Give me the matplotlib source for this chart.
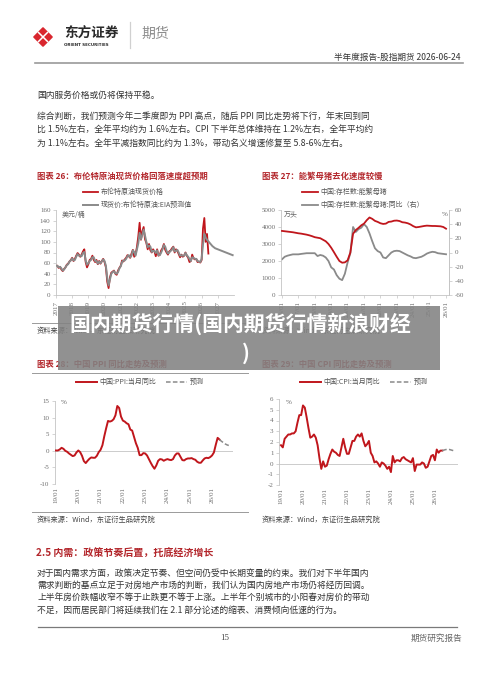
import numpy as np
import matplotlib
matplotlib.use("Agg")
import matplotlib.pyplot as plt
from matplotlib.patches import Rectangle, Polygon
from matplotlib.lines import Line2D
from matplotlib.font_manager import FontProperties

plt.rcParams['font.family'] = ['Noto Sans CJK SC', 'DejaVu Sans']
plt.rcParams['axes.unicode_minus'] = False

# ---------------- data ----------------
# Brent spot (monthly, from 2017-01) and EIA path incl. forecast (monthly, from 2017-01)
brent_spot = [56, 55, 51, 53, 48, 45, 49, 52, 57, 59, 63, 66,
              70, 64, 68, 74, 79, 76, 72, 76, 82, 86, 62, 52,
              58, 66, 68, 74, 66, 62, 66, 58, 64, 59, 64, 68,
              62, 52, 25, 13, 33, 42, 44, 46, 40, 38, 46, 51,
              55, 65, 63, 67, 70, 75, 73, 70, 78, 85, 72, 77,
              90, 110, 136, 104, 120, 128, 105, 98, 86, 96, 84, 80,
              86, 82, 73, 86, 74, 76, 84, 88, 96, 85, 80, 76,
              82, 84, 88, 91, 80, 86, 83, 77, 71, 76, 72, 74,
              80, 74, 70, 62, 64, 76, 69, 67, 68, 62, 63, 61,
              66, 125, 145, 100, 115, 78]
brent_eia = [55, 55, 52, 53, 50, 46, 48, 52, 56, 58, 63, 65,
             69, 65, 66, 72, 77, 74, 74, 73, 79, 81, 65, 57,
             60, 64, 66, 71, 71, 64, 64, 59, 63, 60, 63, 67,
             64, 55, 32, 18, 29, 40, 43, 45, 41, 40, 43, 50,
             54, 62, 65, 65, 68, 73, 75, 71, 74, 84, 81, 74,
             86, 97, 117, 105, 113, 123, 112, 100, 90, 93, 91, 81,
             83, 83, 79, 84, 75, 75, 80, 86, 94, 91, 83, 78,
             80, 83, 85, 90, 82, 83, 85, 80, 74, 75, 74, 74,
             79, 75, 72, 68, 64, 71, 70, 68, 68, 64, 63, 62,
             68, 95, 115, 108, 104, 101, 98, 95, 92, 90, 88, 87,
             86, 85, 84, 83, 82, 81, 80, 79, 78, 77, 76, 75]
brent_years = [2017, 2018, 2019, 2020, 2021, 2022, 2023, 2024, 2025, 2026, 2027]
brent_labels = [str(y) for y in brent_years]

# Breeding sows (bimonthly from 2016-01): stock (10k head) and YoY (%)
sow_stock = [3770, 3750, 3730, 3710, 3690, 3660,
             3630, 3610, 3580, 3550, 3510, 3460,
             3400, 3370, 3340, 3250, 3160, 3000,
             2780, 2520, 2250, 2000, 1900, 1920,
             2040, 2500, 3600, 3820, 3950, 4100,
             4200, 4400, 4560, 4480, 4360, 4300,
             4220, 4180, 4200, 4300, 4320, 4370,
             4380, 4350, 4280, 4260, 4220, 4150,
             4050, 3980, 4000, 4030, 4060, 4080,
             4070, 4060, 4060, 4050, 4040, 4000,
             3900]
sow_yoy = [-9.6, -6.0, -4.5, -3.5, -2.6, -2.6,
           -2.6, -2.0, -1.5, -1.0, -1.0, -1.0,
           -1.0, -5.0, -3.5, -4.5, -7.0, -12.0,
           -21.0, -24.0, -32.0, -37.0, -39.0, -30.0,
           -14.0, -1.0, 36.0, 29.0, 33.0, 35.0,
           40.0, 36.0, 27.0, 16.0, 6.0, 2.0,
           0.0, -7.0, -8.0, -4.0, 0.0, 2.0,
           2.5, 2.0, 0.0, -2.0, -4.0, -5.5,
           -7.5, -8.0, -7.0, -6.0, -4.0, -1.5,
           0.0, 1.0, 0.5, -1.0, -1.5, -2.0,
           -2.5]
sow_years = [2016, 2017, 2018, 2019, 2020, 2021, 2022, 2023, 2024, 2025, 2026]
sow_labels = ['16/01', '17/01', '18/01', '19/01', '20/01', '21/01',
              '22/01', '23/01', '24/01', '25/01', '26/01']

# PPI YoY (monthly from 2019-01) and forecast (monthly from 2026-05)
ppi = [0.1, 0.1, 0.4, 0.9, 0.6, 0.0, -0.3, -0.8, -1.2, -1.6, -1.4, -0.5,
       0.1, -0.4, -1.5, -3.1, -3.7, -3.0, -2.4, -2.0, -2.1, -2.1, -1.5, -0.4,
       0.3, 1.7, 4.4, 6.8, 9.0, 8.8, 9.0, 9.5, 10.7, 13.5, 12.9, 10.3,
       9.1, 8.8, 8.3, 8.0, 6.4, 6.1, 4.2, 2.3, 0.9, -1.3, -1.3, -0.7,
       -0.8, -1.4, -2.5, -3.6, -4.6, -5.4, -4.4, -3.0, -2.5, -2.6, -3.0, -2.7,
       -2.5, -2.7, -2.8, -2.5, -1.4, -0.8, -0.8, -1.8, -2.8, -2.9, -2.5, -2.3,
       -2.3, -2.2, -2.5, -2.7, -3.3, -3.6, -3.6, -2.9, -2.3, -2.1, -2.2, -1.9,
       -1.4, -0.5, 1.8, 3.9, 3.4]
ppi_fc = [3.4, 2.9, 2.5, 2.1, 1.8, 1.6]

# CPI YoY (monthly from 2019-01) and forecast (monthly from 2026-05)
cpi = [1.7, 1.5, 2.3, 2.5, 2.7, 2.7, 2.8, 2.8, 3.0, 3.8, 4.5, 4.5,
       5.4, 5.2, 4.3, 3.3, 2.4, 2.5, 2.7, 2.4, 1.7, 0.5, -0.5, 0.2,
       -0.3, -0.2, 0.4, 0.9, 1.3, 1.1, 1.0, 0.8, 0.7, 1.5, 2.3, 1.5,
       0.9, 0.9, 1.5, 2.1, 2.1, 2.5, 2.7, 2.5, 2.8, 2.1, 1.6, 1.8,
       2.1, 1.0, 0.7, 0.1, 0.2, 0.0, -0.3, 0.1, 0.0, -0.2, -0.5, -0.3,
       -0.8, 0.7, 0.1, 0.3, 0.3, 0.2, 0.5, 0.6, 0.4, 0.3, 0.2, 0.1,
       0.5, -0.7, -0.1, -0.1, -0.1, 0.1, 0.0, -0.4, -0.3, 0.2, 0.7, 0.8,
       0.3, 1.3, 1.0, 1.2, 1.2]
cpi_fc = [1.2, 1.25, 1.3, 1.3, 1.3, 1.25, 1.2]

macro_years = [2019, 2020, 2021, 2022, 2023, 2024, 2025, 2026]
macro_labels = ['19/01', '20/01', '21/01', '22/01', '23/01', '24/01', '25/01', '26/01']

# ---------------- styling ----------------
W, H = 500, 678
RED = '#c0161c'
GREY = '#8a8a8a'
TITLE_RED = '#b3262b'
TXT = '#333333'
AX = '#c4c4c4'
TICK = '#6e6e6e'
fp5 = FontProperties(family=['Noto Sans CJK SC'], size=5)

fig = plt.figure(figsize=(W / 100, H / 100), dpi=100)
fig.patch.set_facecolor('white')


def axes_px(x0, y0, x1, y1):
    return fig.add_axes([x0 / W, 1 - y1 / H, (x1 - x0) / W, (y1 - y0) / H])


def style(ax, bottom=True):
    for s in ['top', 'right']:
        ax.spines[s].set_visible(False)
    ax.spines['left'].set_color(AX)
    ax.spines['left'].set_linewidth(0.6)
    ax.spines['bottom'].set_color(AX)
    ax.spines['bottom'].set_linewidth(0.6)
    ax.spines['bottom'].set_visible(bottom)
    ax.tick_params(axis='y', direction='out', length=2, width=0.5, color=AX,
                   labelsize=5, labelcolor=TICK, pad=2,
                   labelfontfamily='Liberation Serif')
    ax.tick_params(axis='x', direction='out', length=2 if bottom else 0, width=0.5,
                   color=AX, labelsize=5, labelcolor=TICK, pad=2,
                   labelfontfamily='Liberation Serif')
    ax.patch.set_visible(False)


def months(start_year, start_month, n):
    return start_year + (start_month - 1) / 12 + np.arange(n) / 12


# ---- Chart 26: Brent ----
ax1 = axes_px(56, 210, 234, 295)
style(ax1)
l1, = ax1.plot(months(2017, 1, len(brent_spot)), brent_spot, color=RED, lw=1.3, zorder=2)
l2, = ax1.plot(months(2017, 1, len(brent_eia)), brent_eia, color=GREY, lw=1.4, zorder=3)
ax1.set_xlim(2017, 2028)
ax1.set_ylim(0, 160)
ax1.set_yticks(range(0, 161, 20))
ax1.set_xticks(brent_years)
ax1.set_xticklabels(brent_labels, rotation=90)
ax1.legend([l1, l2], ['布伦特原油现货价格', '现货价:布伦特原油:EIA预测值'],
           loc='upper left', bbox_to_anchor=(83 / W, 1 - 188 / H),
           bbox_transform=fig.transFigure, frameon=False, borderpad=0,
           borderaxespad=0, handlelength=2.2, handletextpad=0.4,
           labelspacing=0.75, prop=fp5, labelcolor='#555555')

# ---- Chart 27: sows ----
ax2 = axes_px(281, 210, 449, 295)
style(ax2)
ax2.spines['right'].set_visible(True)
ax2.spines['right'].set_color(AX)
ax2.spines['right'].set_linewidth(0.6)
sx = 2016 + np.arange(len(sow_stock)) / 6
m1, = ax2.plot(sx, sow_stock, color=RED, lw=1.3, zorder=3)
ax2.set_xlim(2015.94, 2026.18)
ax2.set_ylim(0, 5000)
ax2.set_yticks(range(0, 5001, 1000))
ax2.set_xticks(sow_years)
ax2.set_xticklabels(sow_labels, rotation=90)
ax2b = ax2.twinx()
ax2b.patch.set_visible(False)
for s in ['top', 'left', 'bottom']:
    ax2b.spines[s].set_visible(False)
ax2b.spines['right'].set_color(AX)
ax2b.spines['right'].set_linewidth(0.6)
m2, = ax2b.plot(sx, sow_yoy, color=GREY, lw=1.3, zorder=2)
ax2b.set_ylim(-60, 60)
ax2b.set_yticks(range(-60, 61, 20))
ax2b.tick_params(axis='y', direction='out', length=2, width=0.5, color=AX,
                 labelsize=5, labelcolor=TICK, pad=2, labelfontfamily='Liberation Serif')
ax2.set_zorder(ax2b.get_zorder() + 1)
ax2.legend([m1, m2], ['中国:存栏数:能繁母猪', '中国:存栏数:能繁母猪:同比（右）'],
           loc='upper left', bbox_to_anchor=(302 / W, 1 - 188 / H),
           bbox_transform=fig.transFigure, frameon=False, borderpad=0,
           borderaxespad=0, handlelength=2.3, handletextpad=0.4,
           labelspacing=0.75, prop=fp5, labelcolor='#555555')

# ---- Chart 28: PPI ----
ax3 = axes_px(55, 401, 233, 484)
style(ax3, bottom=False)
ax3.axhline(0, color=AX, lw=0.6, zorder=1)
p1, = ax3.plot(months(2019, 1, len(ppi)), ppi, color=RED, lw=1.4, zorder=3)
p2, = ax3.plot(months(2026, 5, len(ppi_fc)), ppi_fc, color=GREY, lw=1.1,
               ls=(0, (3, 1.5)), zorder=3)
ax3.set_xlim(2018.955, 2026.94)
ax3.set_ylim(-10, 15)
ax3.set_yticks(range(-10, 16, 5))
ax3.set_xticks(macro_years)
ax3.set_xticklabels(macro_labels, rotation=90)
ax3.legend([p1, p2], ['中国:PPI:当月同比', '预测'], ncol=2,
           loc='upper left', bbox_to_anchor=(76 / W, 1 - 378 / H),
           bbox_transform=fig.transFigure, frameon=False, borderpad=0,
           borderaxespad=0, handlelength=3.0, handletextpad=0.4,
           columnspacing=1.4, prop=fp5, labelcolor='#555555')

# ---- Chart 29: CPI ----
ax4 = axes_px(279, 399, 458, 485)
style(ax4, bottom=False)
ax4.axhline(0, color=AX, lw=0.6, zorder=1)
c1, = ax4.plot(months(2019, 1, len(cpi)), cpi, color=RED, lw=1.4, zorder=3)
c2, = ax4.plot(months(2026, 5, len(cpi_fc)), cpi_fc, color=GREY, lw=1.1,
               ls=(0, (3, 1.5)), zorder=3)
ax4.set_xlim(2018.91, 2027.05)
ax4.set_ylim(-2, 6)
ax4.set_yticks(range(-2, 7, 1))
ax4.set_xticks(macro_years)
ax4.set_xticklabels(macro_labels, rotation=90)
ax4.legend([c1, c2], ['中国:CPI:当月同比', '预测'], ncol=2,
           loc='upper left', bbox_to_anchor=(300 / W, 1 - 378 / H),
           bbox_transform=fig.transFigure, frameon=False, borderpad=0,
           borderaxespad=0, handlelength=3.0, handletextpad=0.4,
           columnspacing=1.4, prop=fp5, labelcolor='#555555')

# ---------------- page overlay ----------------
ov = fig.add_axes([0, 0, 1, 1], zorder=10)
ov.set_xlim(0, W)
ov.set_ylim(H, 0)
ov.axis('off')
ov.patch.set_visible(False)


def t(x, y, s, size=6.3, color=TXT, ha='left', weight='normal', **kw):
    ov.text(x, y, s, fontsize=size, color=color, ha=ha, va='center',
            fontweight=weight, **kw)


# logo
ov.add_patch(Polygon([(43, 28), (52, 37), (43, 46), (34, 37)], closed=True,
                     facecolor='#d9262e', edgecolor='#d9262e', lw=1.2, joinstyle='round'))
ov.add_line(Line2D([38.5, 47.5], [32.5, 41.5], color='white', lw=1.1))
ov.add_line(Line2D([47.5, 38.5], [32.5, 41.5], color='white', lw=1.1))
t(64, 34, '东方证券', size=9.8, color='#2a2a2a', weight='bold')
t(64, 45, 'ORIENT SECURITIES', size=2.9, color='#2a2a2a', weight='bold',
  family=['DejaVu Sans'])
ov.add_line(Line2D([130, 130], [22, 48], color='#d0d0d0', lw=0.9))
t(141, 34, '期货', size=10, color='#8c8c8c')

# header
t(460, 57, '半年度报告-股指期货 2026-06-24', size=6.2, color='#333333', ha='right')
ov.add_line(Line2D([35, 463], [63, 63], color='#9a9a9a', lw=1.2))

# intro paragraph
t(37, 95, '国内服务价格或仍将保持平稳。')
t(37, 116, '综合判断，我们预测今年二季度即为 PPI 高点，随后 PPI 同比走势将下行，年末回到同')
t(37, 129.5, '比 1.5%左右，全年平均约为 1.6%左右。CPI 下半年总体维持在 1.2%左右，全年平均约')
t(37, 143, '为 1.1%左右。全年平减指数同比约为 1.3%，带动名义增速修复至 5.8-6%左右。')

# chart titles
t(37, 176, '图表 26：布伦特原油现货价格回落速度超预期', size=6, color=TITLE_RED, weight='bold')
t(262, 176, '图表 27：能繁母猪去化速度较慢', size=6, color=TITLE_RED, weight='bold')
t(37, 364, '图表 28：中国 PPI 同比走势及预测', size=6, color=TITLE_RED, weight='bold')
t(262, 364, '图表 29：中国 CPI 同比走势及预测', size=6, color=TITLE_RED, weight='bold')
ov.add_line(Line2D([32, 248], [373, 373], color='#9a9a9a', lw=0.7))

# unit labels
t(62, 215, '美元/桶', size=5, color='#666666')
t(284, 214, '万头', size=5, color='#666666')
t(442, 214, '%', size=5, color='#666666', family=['Liberation Serif'])
t(61, 403, '%', size=5, color='#666666', family=['Liberation Serif'])
t(286, 403, '%', size=5, color='#666666', family=['Liberation Serif'])

# sources
ov.add_line(Line2D([32, 248], [323, 323], color='#9a9a9a', lw=0.7))
t(37, 331, '资料来源：Wind，东证衍生品研究院', size=5.2, color='#444444')
t(262, 331, '资料来源：Wind，东证衍生品研究院', size=5.2, color='#444444')
ov.add_line(Line2D([32, 248], [512, 512], color='#9a9a9a', lw=0.7))
t(37, 520, '资料来源：Wind，东证衍生品研究院', size=5.2, color='#444444')
t(262, 520, '资料来源：Wind，东证衍生品研究院', size=5.2, color='#444444')

# section 2.5
t(36, 553, '2.5 内需：政策节奏后置，托底经济增长', size=7.2, color=TITLE_RED, weight='bold')
t(37, 573, '对于国内需求方面，政策决定节奏、但空间仍受中长期变量的约束。我们对下半年国内')
t(37, 585, '需求判断的基点立足于对房地产市场的判断，我们认为国内房地产市场仍将经历回调。')
t(37, 597, '上半年房价跌幅收窄不等于止跌更不等于上涨。上半年个别城市的小阳春对房价的带动')
t(37, 610, '不足，因而居民部门将延续我们在 2.1 部分论述的缩表、消费倾向低速的行为。')
ov.add_line(Line2D([38, 457], [627, 627], color='#7a7a7a', lw=0.9))
t(225, 638, '15', size=6.3, color='#444444', ha='center', family=['Liberation Serif'])
t(462, 638, '期货研究报告', size=6.2, color='#666666', ha='right')

# overlay banner
ov.add_patch(Rectangle((58, 306), 382, 64, facecolor='#828282', edgecolor='none',
                       alpha=0.88, zorder=20))
ov.text(240, 324, '国内期货行情(国内期货行情新浪财经', fontsize=15, color='white',
        fontweight='bold', ha='center', va='center', zorder=21)
ov.text(246, 353, ')', fontsize=15, color='white', fontweight='bold',
        ha='center', va='center', zorder=21)

fig.savefig('out.png', dpi=100, facecolor='white')
